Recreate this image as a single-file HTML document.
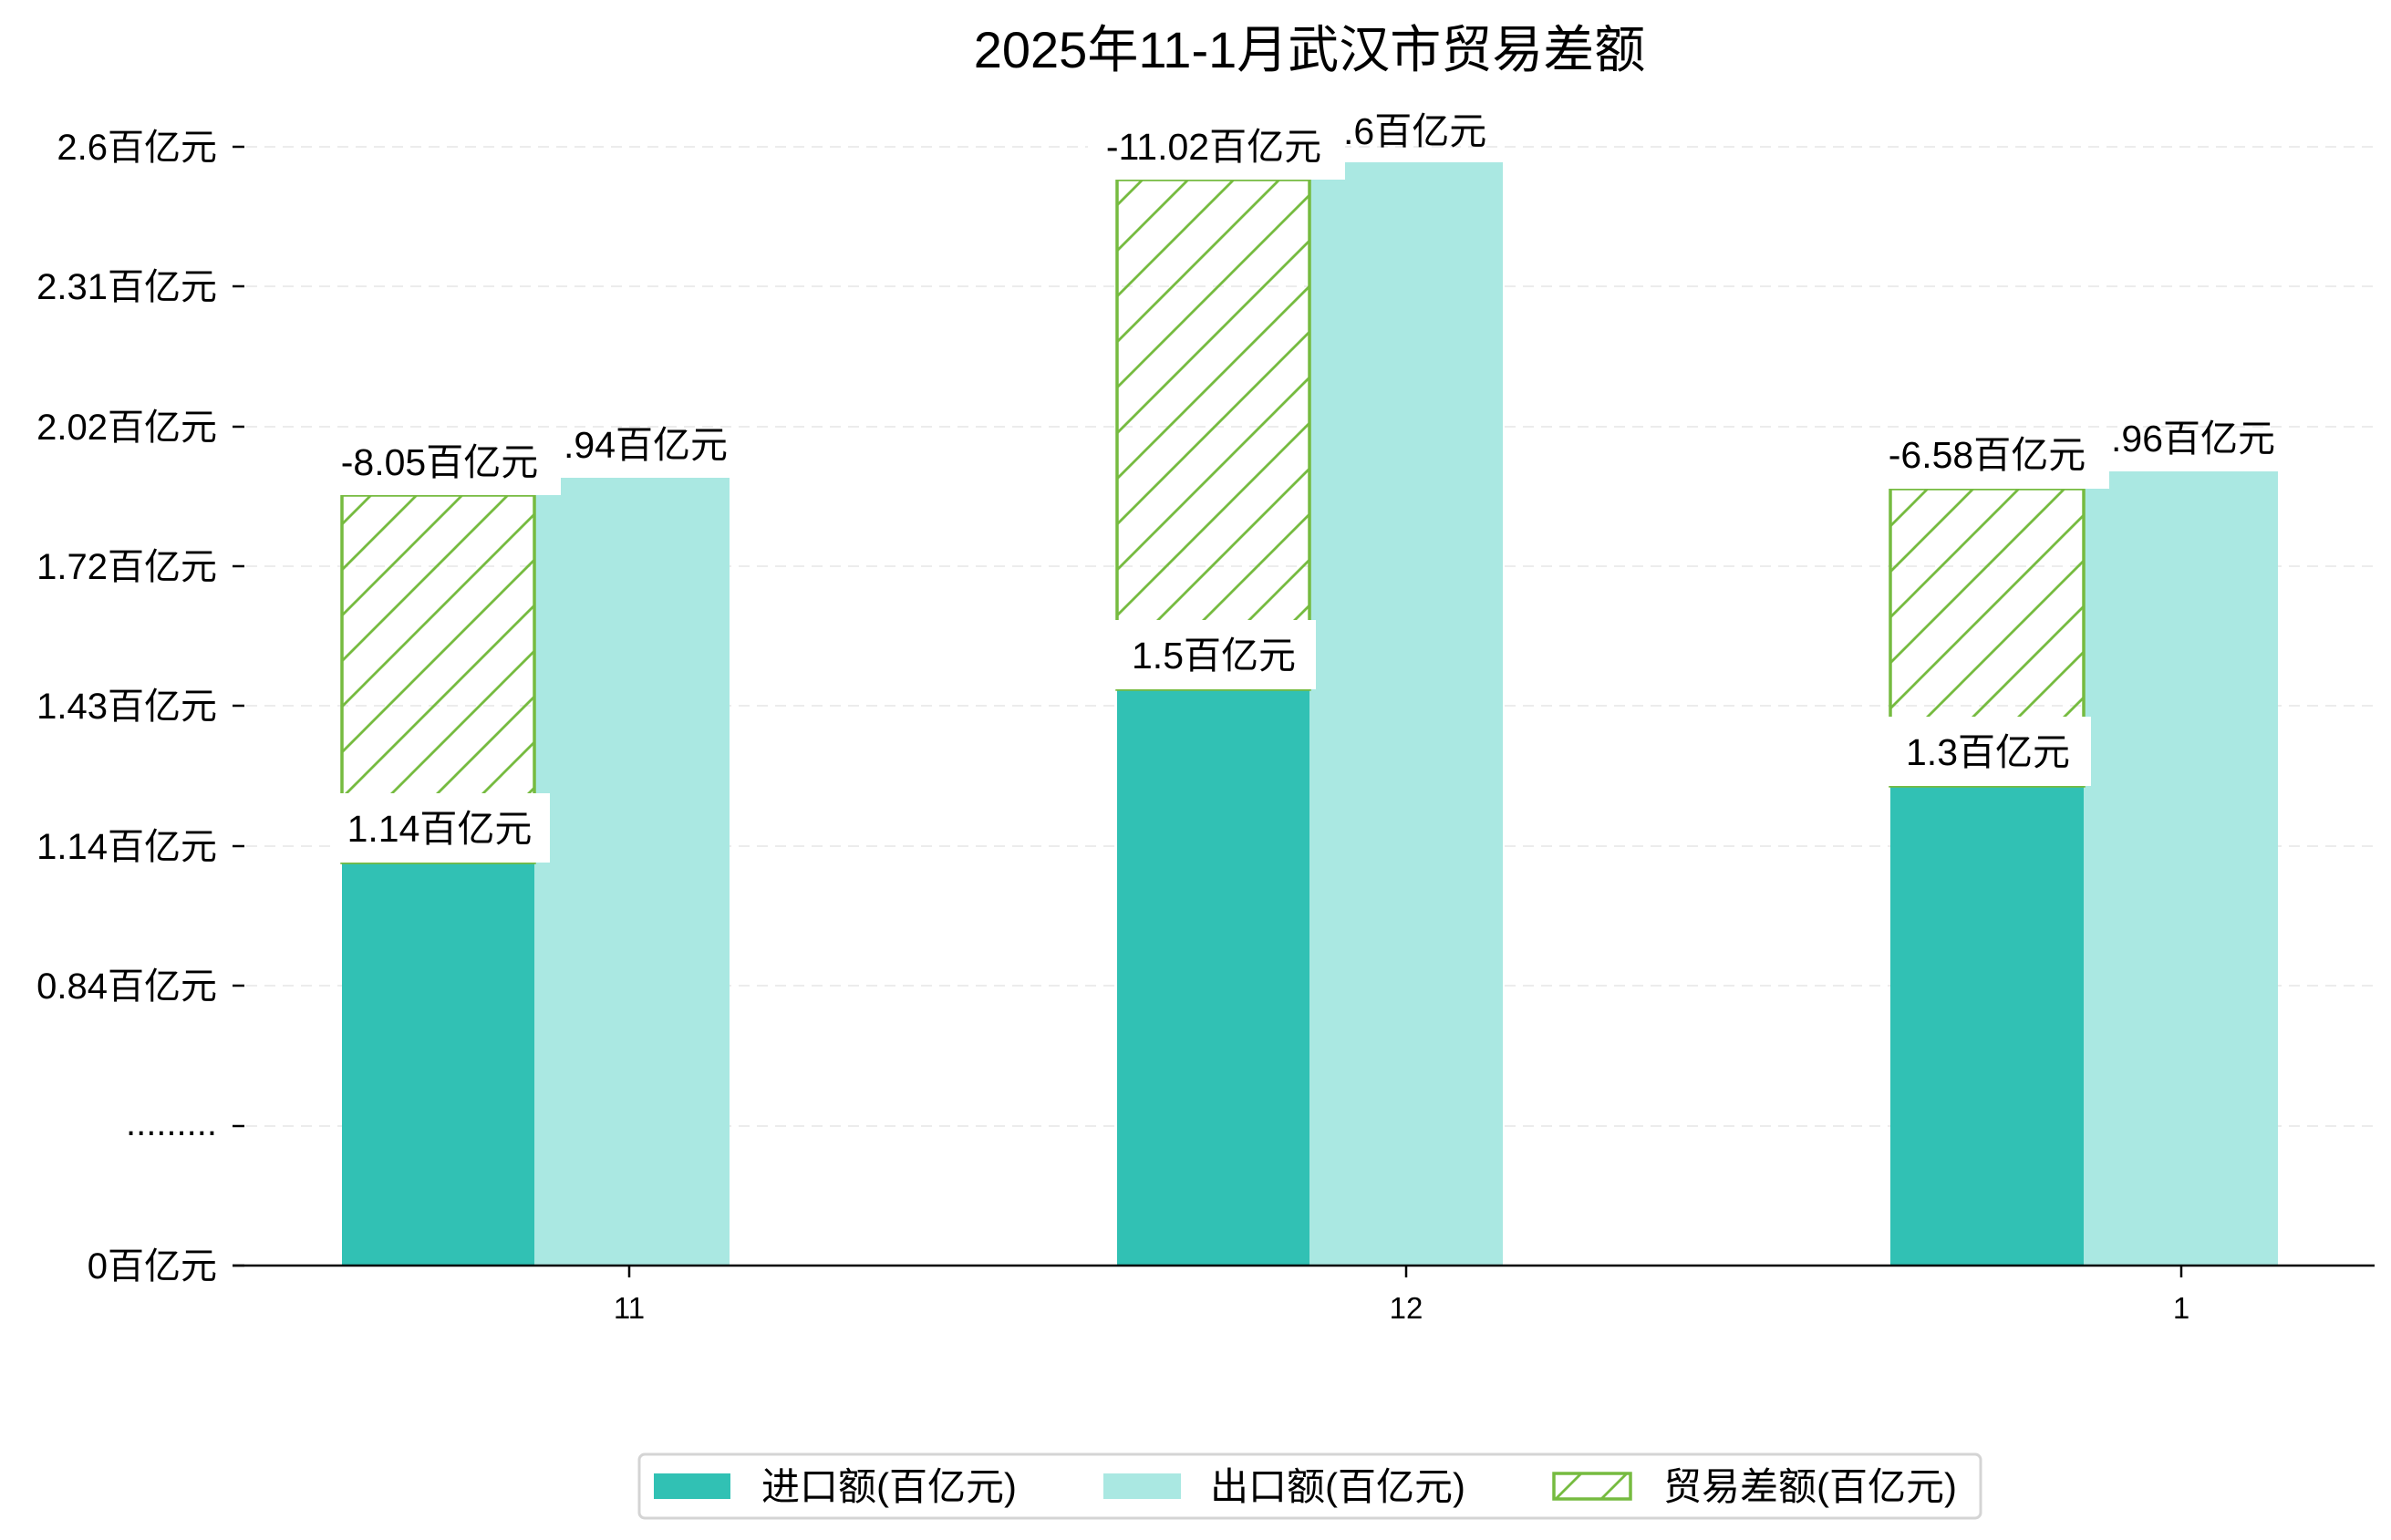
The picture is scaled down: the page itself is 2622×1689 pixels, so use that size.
<!DOCTYPE html>
<html><head><meta charset="utf-8"><style>
html,body{margin:0;padding:0;background:#fff;}
svg{display:block;}
text{font-family:"Liberation Sans","Noto Sans CJK SC",sans-serif;fill:#000;}
</style></head><body>
<svg width="2622" height="1689" viewBox="0 0 2622 1689" xmlns="http://www.w3.org/2000/svg">
<defs>
<pattern id="h" patternUnits="userSpaceOnUse" width="50" height="50">
<line x1="-5" y1="55" x2="55" y2="-5" stroke="#76bb40" stroke-width="2.8"/>
<line x1="-30" y1="30" x2="30" y2="-30" stroke="#76bb40" stroke-width="2.8"/>
<line x1="20" y1="80" x2="80" y2="20" stroke="#76bb40" stroke-width="2.8"/>
</pattern>
</defs>
<text x="1436" y="74" font-size="56" text-anchor="middle">2025年11-1月武汉市贸易差额</text>
<g stroke="#ececec" stroke-width="2" stroke-dasharray="12,8">
<line x1="270" y1="161" x2="2604" y2="161"/><line x1="270" y1="314" x2="2604" y2="314"/>
<line x1="270" y1="468" x2="2604" y2="468"/><line x1="270" y1="621" x2="2604" y2="621"/>
<line x1="270" y1="774" x2="2604" y2="774"/><line x1="270" y1="928" x2="2604" y2="928"/>
<line x1="270" y1="1081" x2="2604" y2="1081"/><line x1="270" y1="1235" x2="2604" y2="1235"/>
</g>
<g stroke="#000" stroke-width="2.5">
<line x1="255" y1="161" x2="268" y2="161"/><line x1="255" y1="314" x2="268" y2="314"/>
<line x1="255" y1="468" x2="268" y2="468"/><line x1="255" y1="621" x2="268" y2="621"/>
<line x1="255" y1="774" x2="268" y2="774"/><line x1="255" y1="928" x2="268" y2="928"/>
<line x1="255" y1="1081" x2="268" y2="1081"/><line x1="255" y1="1235" x2="268" y2="1235"/>
<line x1="255" y1="1388" x2="268" y2="1388"/>
</g>
<g font-size="40" text-anchor="end">
<text x="238" y="175">2.6百亿元</text><text x="238" y="328">2.31百亿元</text>
<text x="238" y="482">2.02百亿元</text><text x="238" y="635">1.72百亿元</text>
<text x="238" y="788">1.43百亿元</text><text x="238" y="942">1.14百亿元</text>
<text x="238" y="1095">0.84百亿元</text><text x="238" y="1245">.........</text>
<text x="238" y="1402">0百亿元</text>
</g>
<rect x="375" y="946" width="211" height="442" fill="#31c1b4"/>
<rect x="586" y="524" width="214" height="864" fill="#aae8e2"/>
<rect x="375" y="543" width="211" height="403" fill="url(#h)" stroke="#76bb40" stroke-width="3.5"/>
<rect x="1225" y="756" width="211" height="632" fill="#31c1b4"/>
<rect x="1436" y="178" width="212" height="1210" fill="#aae8e2"/>
<rect x="1225" y="197" width="211" height="559" fill="url(#h)" stroke="#76bb40" stroke-width="3.5"/>
<rect x="2073" y="862" width="212" height="526" fill="#31c1b4"/>
<rect x="2285" y="517" width="213" height="871" fill="#aae8e2"/>
<rect x="2073" y="536" width="212" height="326" fill="url(#h)" stroke="#76bb40" stroke-width="3.5"/>
<g font-size="41">
<text x="618" y="502">.94百亿元</text>
<text x="1473" y="158">.6百亿元</text>
<text x="2315" y="495">.96百亿元</text>
</g>
<g font-size="41" text-anchor="middle">
<rect x="353" y="479" width="262" height="64" fill="#fff"/><text x="482" y="521">-8.05百亿元</text>
<rect x="366" y="870" width="237" height="76" fill="#fff"/><text x="482" y="923">1.14百亿元</text>
<rect x="1193" y="131" width="282" height="66" fill="#fff"/><text x="1331" y="175">-11.02百亿元</text>
<rect x="1216" y="680" width="227" height="76" fill="#fff"/><text x="1331" y="733">1.5百亿元</text>
<rect x="2053" y="469" width="260" height="67" fill="#fff"/><text x="2179" y="513">-6.58百亿元</text>
<rect x="2064" y="786" width="229" height="76" fill="#fff"/><text x="2180" y="839">1.3百亿元</text>
</g>
<line x1="255" y1="1388" x2="2604" y2="1388" stroke="#000" stroke-width="2.5"/>
<g stroke="#000" stroke-width="2.5">
<line x1="690" y1="1388" x2="690" y2="1401"/><line x1="1542" y1="1388" x2="1542" y2="1401"/><line x1="2392" y1="1388" x2="2392" y2="1401"/>
</g>
<g font-size="33" text-anchor="middle">
<text x="690" y="1446">11</text><text x="1542" y="1446">12</text><text x="2392" y="1446">1</text>
</g>
<rect x="701" y="1595" width="1471" height="70" rx="6" fill="#fff" stroke="#d4d4d4" stroke-width="3"/>
<rect x="717" y="1616" width="84" height="28" fill="#31c1b4"/>
<rect x="1210" y="1616" width="85" height="28" fill="#aae8e2"/>
<rect x="1704" y="1616" width="84" height="28" fill="url(#h)" stroke="#76bb40" stroke-width="3.5"/>
<g font-size="42">
<text x="835" y="1645">进口额(百亿元)</text>
<text x="1327" y="1645">出口额(百亿元)</text>
<text x="1824" y="1645">贸易差额(百亿元)</text>
</g>
</svg>
</body></html>
